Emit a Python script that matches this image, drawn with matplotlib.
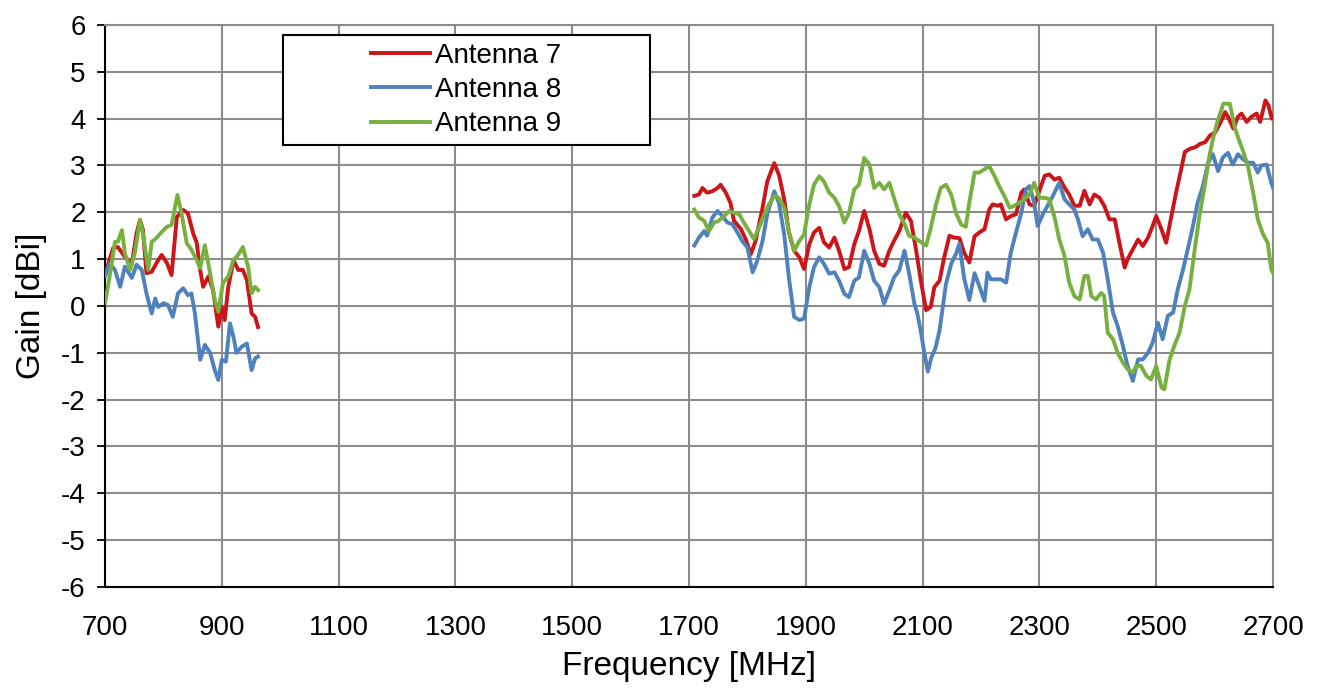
import matplotlib
matplotlib.use("Agg")
import matplotlib.pyplot as plt
from matplotlib.patches import Rectangle

# ---------------- data ----------------
ant7_low_f = [703, 714, 722, 734, 746, 754, 760, 765, 771, 780, 791, 797, 806, 814, 823, 834, 842, 851,
              857, 863, 868, 877, 885, 894, 900, 905, 911, 920, 928, 936, 943, 951, 957, 962]
ant7_low_g = [0.8, 1.24, 1.26, 1.05, 0.9, 1.55, 1.84, 1.62, 0.7, 0.73, 0.98, 1.09, 0.92, 0.66, 1.9, 2.05, 1.98, 1.55,
              1.35, 0.77, 0.41, 0.63, 0.34, -0.44, -0.02, -0.3, 0.4, 0.98, 0.77, 0.77, 0.55, -0.16, -0.23, -0.45]

ant8_low_f = [700, 708, 717, 726, 734, 746, 754, 763, 771, 780, 786, 791, 800, 808, 816, 825, 834, 842,
              848, 854, 863, 871, 880, 888, 894, 900, 907, 914, 920, 925, 934, 943, 951, 957, 962]
ant8_low_g = [0.63, 0.91, 0.77, 0.41, 0.84, 0.6, 0.88, 0.77, 0.27, -0.16, 0.16, -0.02, 0.06, 0.02, -0.23, 0.27, 0.38, 0.23,
              0.27, -0.16, -1.15, -0.83, -1.0, -1.37, -1.58, -1.15, -1.19, -0.37, -0.66, -1.0, -0.87, -0.8, -1.37, -1.12, -1.08]

ant9_low_f = [700, 708, 717, 722, 729, 734, 743, 751, 760, 765, 774, 780, 788, 797, 806, 814, 820, 824,
              831, 840, 848, 857, 863, 871, 880, 888, 894, 902, 911, 920, 928, 936, 945, 951, 957, 962]
ant9_low_g = [0.06, 0.63, 1.37, 1.37, 1.62, 1.13, 0.77, 1.13, 1.84, 1.55, 0.77, 1.37, 1.45, 1.58, 1.69, 1.73, 2.12, 2.37,
              1.98, 1.34, 1.2, 0.98, 0.81, 1.3, 0.7, 0.13, -0.12, 0.49, 0.63, 0.98, 1.09, 1.26, 0.84, 0.27, 0.41, 0.34]

ant7_high_f = [1709, 1717, 1723, 1731, 1740, 1749, 1754, 1763, 1771, 1777, 1789, 1797, 1806, 1814, 1826, 1834, 1846, 1854,
               1863, 1871, 1880, 1889, 1897, 1906, 1914, 1923, 1931, 1940, 1949, 1957, 1966, 1974, 1983, 1991, 2000, 2009,
               2017, 2026, 2034, 2043, 2051, 2060, 2071, 2080, 2089, 2097, 2106, 2114, 2120, 2129, 2137, 2146, 2154, 2163,
               2171, 2180, 2189, 2197, 2206, 2214, 2220, 2229, 2234, 2243, 2251, 2260, 2269, 2274, 2283, 2291, 2300, 2309,
               2317, 2326, 2334, 2343, 2351, 2360, 2369, 2377, 2386, 2394, 2403, 2411, 2420, 2429, 2437, 2446, 2451, 2460,
               2469, 2477, 2486, 2494, 2500, 2509, 2517, 2526, 2534, 2541, 2549, 2558, 2567, 2575, 2584, 2592, 2601, 2609,
               2618, 2623, 2632, 2640, 2646, 2655, 2663, 2672, 2678, 2687, 2692, 2698, 2700]
ant7_high_g = [2.35, 2.38, 2.52, 2.42, 2.45, 2.52, 2.59, 2.42, 2.2, 1.82, 1.64, 1.43, 1.11, 1.39, 2.1, 2.66, 3.05, 2.8,
               2.28, 1.57, 1.18, 1.04, 0.79, 1.32, 1.57, 1.67, 1.36, 1.25, 1.46, 1.18, 0.79, 0.83, 1.32, 1.6, 2.03, 1.64,
               1.18, 0.9, 0.86, 1.18, 1.39, 1.6, 1.99, 1.82, 1.18, 0.54, -0.09, -0.02, 0.4, 0.54, 1.04, 1.5, 1.46, 1.45,
               1.14, 0.93, 1.49, 1.57, 1.64, 2.06, 2.17, 2.14, 2.17, 1.85, 1.92, 1.96, 2.42, 2.49, 2.17, 2.14, 2.46, 2.78,
               2.81, 2.7, 2.74, 2.53, 2.38, 2.14, 2.14, 2.46, 2.17, 2.38, 2.31, 2.14, 1.85, 1.85, 1.35, 0.82, 1.0, 1.21,
               1.42, 1.28, 1.46, 1.71, 1.92, 1.64, 1.35, 1.92, 2.42, 2.82, 3.29, 3.36, 3.39, 3.46, 3.5, 3.64, 3.71, 3.89,
               4.14, 4.04, 3.79, 4.04, 4.11, 3.93, 4.04, 4.11, 3.93, 4.39, 4.29, 4.0, 4.04]

ant8_high_f = [1709, 1717, 1726, 1731, 1740, 1749, 1757, 1766, 1774, 1783, 1791, 1800, 1809, 1817, 1826, 1834, 1846, 1854,
               1863, 1871, 1880, 1889, 1897, 1906, 1914, 1923, 1931, 1940, 1949, 1957, 1966, 1974, 1983, 1991, 2000, 2009,
               2017, 2026, 2034, 2043, 2051, 2060, 2069, 2077, 2086, 2091, 2097, 2103, 2109, 2115, 2122, 2129, 2140, 2149,
               2157, 2163, 2171, 2180, 2189, 2197, 2206, 2211, 2217, 2226, 2234, 2243, 2251, 2260, 2269, 2277, 2283, 2291,
               2297, 2306, 2314, 2323, 2334, 2343, 2351, 2360, 2366, 2374, 2383, 2391, 2400, 2409, 2417, 2426, 2434, 2443,
               2451, 2460, 2469, 2477, 2486, 2494, 2503, 2511, 2520, 2529, 2537, 2546, 2554, 2563, 2571, 2580, 2589, 2597,
               2606, 2614, 2623, 2631, 2640, 2649, 2657, 2666, 2674, 2680, 2689, 2697, 2700]
ant8_high_g = [1.29, 1.46, 1.6, 1.5, 1.89, 2.03, 1.92, 1.78, 1.75, 1.57, 1.39, 1.25, 0.72, 0.97, 1.39, 1.96, 2.45, 2.2,
               1.53, 0.61, -0.23, -0.3, -0.27, 0.4, 0.83, 1.04, 0.9, 0.69, 0.72, 0.54, 0.26, 0.19, 0.54, 0.61, 1.18, 0.9,
               0.54, 0.4, 0.05, 0.33, 0.61, 0.76, 1.18, 0.69, 0.05, -0.16, -0.55, -1.0, -1.4, -1.1, -0.9, -0.52, 0.47, 0.9,
               1.11, 1.33, 0.6, 0.13, 0.7, 0.43, 0.11, 0.71, 0.57, 0.57, 0.57, 0.5, 1.14, 1.57, 1.99, 2.49, 2.56, 2.21,
               1.71, 1.96, 2.14, 2.35, 2.63, 2.28, 2.17, 2.06, 1.85, 1.49, 1.64, 1.42, 1.42, 1.14, 0.57, -0.14, -0.43, -0.85,
               -1.28, -1.6, -1.14, -1.14, -1.0, -0.78, -0.36, -0.71, -0.21, -0.14, 0.36, 0.78, 1.21, 1.71, 2.21, 2.56, 3.06, 3.24,
               2.88, 3.17, 3.27, 3.02, 3.24, 3.13, 3.06, 3.06, 2.85, 3.0, 3.02, 2.63, 2.53]

ant9_high_f = [1709, 1717, 1726, 1734, 1743, 1751, 1760, 1769, 1777, 1786, 1794, 1803, 1811, 1820, 1829, 1837, 1846, 1854,
               1863, 1871, 1880, 1889, 1897, 1906, 1914, 1923, 1931, 1940, 1949, 1957, 1966, 1974, 1983, 1991, 2000, 2009,
               2017, 2026, 2034, 2043, 2051, 2060, 2069, 2077, 2086, 2094, 2106, 2114, 2123, 2131, 2140, 2149, 2157, 2166,
               2174, 2180, 2189, 2197, 2206, 2214, 2223, 2231, 2240, 2249, 2257, 2266, 2274, 2283, 2291, 2300, 2309, 2317,
               2326, 2334, 2343, 2351, 2360, 2369, 2377, 2383, 2389, 2397, 2406, 2411, 2417, 2426, 2434, 2443, 2451, 2460,
               2466, 2474, 2483, 2491, 2500, 2509, 2514, 2523, 2531, 2540, 2549, 2557, 2566, 2574, 2583, 2591, 2597, 2604,
               2615, 2626, 2635, 2643, 2649, 2657, 2666, 2674, 2683, 2691, 2697, 2700]
ant9_high_g = [2.06, 1.89, 1.82, 1.6, 1.78, 1.82, 1.92, 2.03, 1.99, 1.96, 1.78, 1.6, 1.43, 1.67, 1.96, 2.17, 2.35, 2.31,
               2.1, 1.6, 1.18, 1.39, 1.53, 2.17, 2.59, 2.77, 2.66, 2.42, 2.31, 2.13, 1.78, 1.99, 2.49, 2.59, 3.16, 3.02,
               2.52, 2.63, 2.49, 2.63, 2.31, 1.96, 1.75, 1.5, 1.46, 1.39, 1.29, 1.67, 2.17, 2.52, 2.59, 2.38, 1.99, 1.74,
               1.69, 2.21, 2.85, 2.85, 2.92, 2.99, 2.78, 2.56, 2.35, 2.1, 2.14, 2.21, 2.28, 2.38, 2.63, 2.31, 2.31, 2.28,
               1.89, 1.42, 1.07, 0.5, 0.21, 0.14, 0.64, 0.64, 0.21, 0.14, 0.28, 0.21, -0.57, -0.71, -1.0, -1.21, -1.35, -1.42,
               -1.28, -1.28, -1.49, -1.57, -1.28, -1.74, -1.78, -1.14, -0.85, -0.57, 0.0, 0.36, 1.21, 1.92, 2.56, 3.2, 3.56, 3.9,
               4.32, 4.32, 3.79, 3.5, 3.3, 2.99, 2.42, 1.85, 1.53, 1.35, 0.78, 0.71]

labels = ["Antenna 7", "Antenna 8", "Antenna 9"]
x_ticks = [700, 900, 1100, 1300, 1500, 1700, 1900, 2100, 2300, 2500, 2700]
y_ticks = [-6, -5, -4, -3, -2, -1, 0, 1, 2, 3, 4, 5, 6]

# ---------------- style ----------------
plt.rcParams['font.family'] = ['Liberation Sans', 'DejaVu Sans']
plt.rcParams['axes.unicode_minus'] = False
colors = ["#CC1518", "#4F81BD", "#78B040"]
lw = 2.8

fig = plt.figure(figsize=(13.19, 6.89), dpi=100)
ax = fig.add_axes([105/1319, 1 - 587/689, 1168/1319, 562/689])

series = [(ant7_low_f, ant7_low_g, ant7_high_f, ant7_high_g),
          (ant8_low_f, ant8_low_g, ant8_high_f, ant8_high_g),
          (ant9_low_f, ant9_low_g, ant9_high_f, ant9_high_g)]
handles = []
for (lf, lg, hf, hg), c, lab in zip(series, colors, labels):
    h, = ax.plot(lf, lg, color=c, lw=lw, label=lab, zorder=3)
    ax.plot(hf, hg, color=c, lw=lw, zorder=3)
    handles.append(h)

ax.set_xlim(700, 2700)
ax.set_ylim(-6, 6)
ax.set_xticks(x_ticks)
ax.set_yticks(y_ticks)
ax.grid(True, color="#8C8C8C", lw=1.5, zorder=0)
ax.set_axisbelow(True)
for s in ["top", "right"]:
    ax.spines[s].set_color("#8C8C8C")
    ax.spines[s].set_linewidth(1.5)
for s in ["left", "bottom"]:
    ax.spines[s].set_color("black")
    ax.spines[s].set_linewidth(1.5)
ax.tick_params(axis="y", direction="out", length=6, width=1.3, labelsize=20, pad=8, colors="black")
ax.tick_params(axis="x", length=0, labelsize=20, pad=20)
ax.set_xlabel("Frequency [MHz]", fontsize=24, labelpad=7)
ax.set_ylabel("Gain [dBi]", fontsize=24, labelpad=10)

# legend box
x0, x1 = (283 - 105) / 1168, (650 - 105) / 1168
y0, y1 = (587 - 145) / 562, (587 - 35) / 562
ax.add_patch(Rectangle((x0, y0), x1 - x0, y1 - y0, transform=ax.transAxes,
                       facecolor="white", edgecolor="black", lw=1.5, zorder=5))
leg = ax.legend(handles=handles, loc="center", bbox_to_anchor=((x0 + x1) / 2, (y0 + y1) / 2),
                frameon=False, fontsize=20, handlelength=2.1, handletextpad=0.2,
                labelspacing=0.3, borderpad=0.0)
leg.set_zorder(6)

fig.savefig("out.png", dpi=100)
